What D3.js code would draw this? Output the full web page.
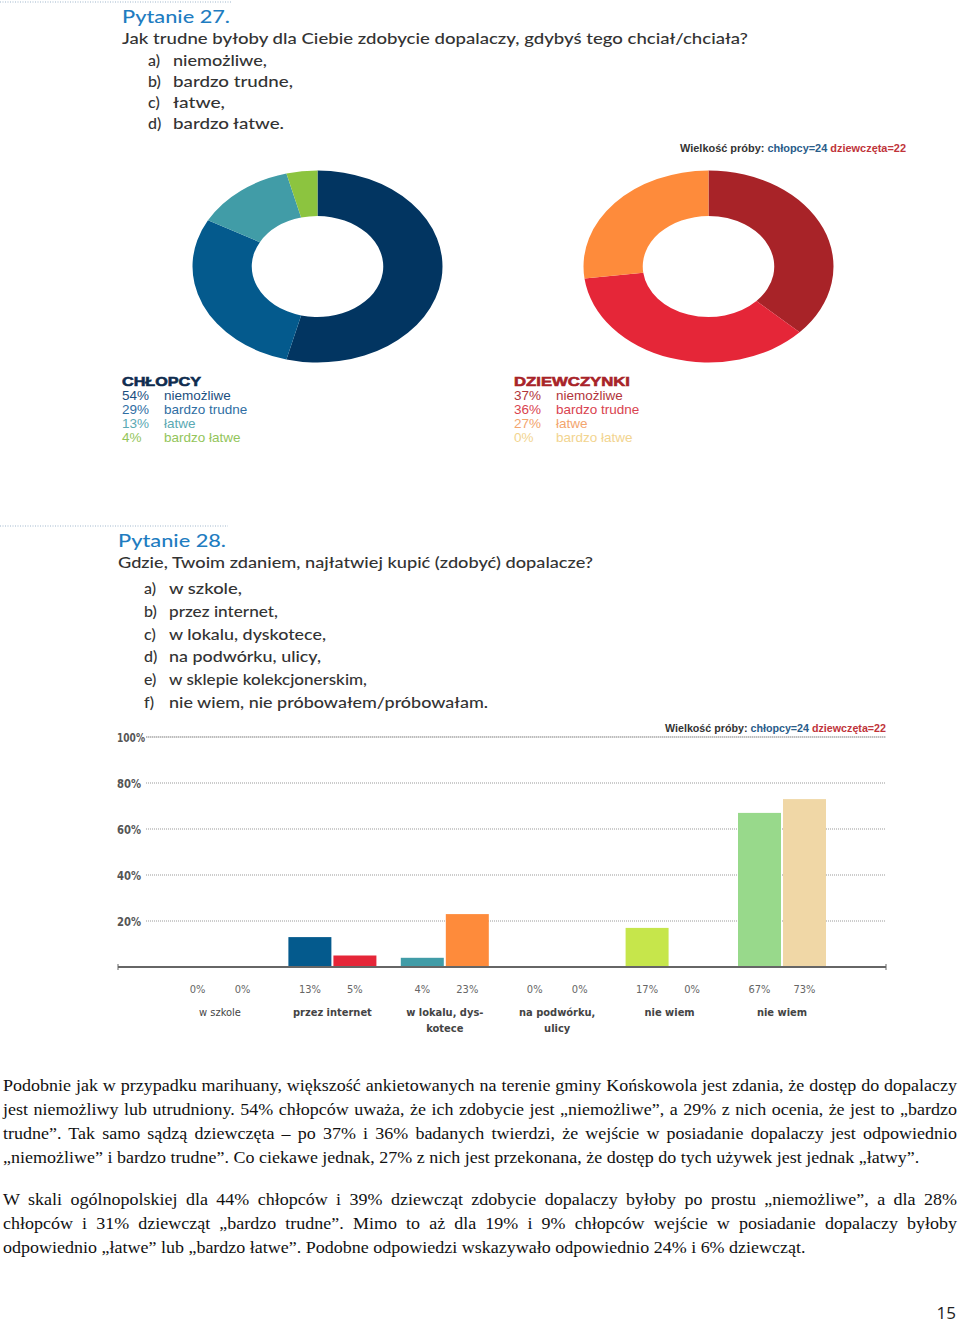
<!DOCTYPE html>
<html><head><meta charset="utf-8">
<script src="https://cdn.jsdelivr.net/npm/d3@7"></script>
<style>body{margin:0;background:#fff}svg{display:block}</style>
</head><body>
<script>
// ---------- DATA ----------
const answers = ["niemożliwe","bardzo trudne","łatwe","bardzo łatwe"];
const boysPct = [54,29,13,4];
const girlsPct = [37,36,27,0];
const q27Items = ["niemożliwe,","bardzo trudne,","łatwe,","bardzo łatwe."];
const q28Items = ["w szkole,","przez internet,","w lokalu, dyskotece,","na podwórku, ulicy,","w sklepie kolekcjonerskim,","nie wiem, nie próbowałem/próbowałam."];
const places = [["w szkole"],["przez internet"],["w lokalu, dys-","kotece"],["na podwórku,","ulicy"],["nie wiem"],["nie wiem"]];
const boysBars = [0,13,4,0,17,67];
const girlsBars = [0,5,23,0,0,73];
const yTicks = [20,40,60,80,100];
const para1 = [
 "Podobnie jak w przypadku marihuany, większość ankietowanych na terenie gminy Końskowola jest zdania, że dostęp do dopalaczy",
 "jest niemożliwy lub utrudniony. 54% chłopców uważa, że ich zdobycie jest „niemożliwe”, a 29% z nich ocenia, że jest to „bardzo",
 "trudne”. Tak samo sądzą dziewczęta – po 37% i 36% badanych twierdzi, że wejście w posiadanie dopalaczy jest odpowiednio",
 "„niemożliwe” i bardzo trudne”. Co ciekawe jednak, 27% z nich jest przekonana, że dostęp do tych używek jest jednak „łatwy”."];
const para2 = [
 "W skali ogólnopolskiej dla 44% chłopców i 39% dziewcząt zdobycie dopalaczy byłoby po prostu „niemożliwe”, a dla 28%",
 "chłopców i 31% dziewcząt „bardzo trudne”. Mimo to aż dla 19% i 9% chłopców wejście w posiadanie dopalaczy byłoby",
 "odpowiednio „łatwe” lub „bardzo łatwe”. Podobne odpowiedzi wskazywało odpowiednio 24% i 6% dziewcząt."];

// ---------- STYLES / LAYOUT ----------
const boysColors = ["#023561","#045a8d","#419ca7","#8cc43f"];
const girlsColors = ["#a82328","#e52638","#fe8b3b","#f5d27e"];
const boysText = ["#1c4f80","#2f6ea3","#5aa9b3","#93c55a"];
const girlsText = ["#b2353b","#d9434f","#f3a56e","#f2d48f"];
const barBoys = ["#023561","#045a8d","#419ca7","#8cc43f","#c6e64b","#98d98b"];
const barGirls = ["#a82328","#e52638","#fe8b3b","#f5d27e","#f5d27e","#f0d7a6"];
const q27Ends = [267,293,225,284];
const q28Ends = [242,278,326,321,367,488];
const headFont = "Lato, 'Open Sans', sans-serif";
const sans = "'Liberation Sans', Arial, sans-serif";
const narrow = "'Liberation Sans Narrow', 'DejaVu Sans Condensed', 'Liberation Sans', sans-serif";

const W = 960, H = 1324;
const svg = d3.select("body").append("svg").attr("width",W).attr("height",H);
svg.append("rect").attr("width",W).attr("height",H).attr("fill","#fff");

function fitText(sel, len){ sel.attr("textLength",len).attr("lengthAdjust","spacingAndGlyphs"); return sel; }

// ---------- Question header helper ----------
function header(y0, x0, title, titleW, question, qW, items, ends, itemStart, step){
  svg.append("line").attr("x1",0).attr("x2",x0+110).attr("y1",y0).attr("y2",y0)
    .attr("stroke","#9fb6cc").attr("stroke-dasharray","1,1.5").attr("stroke-width",1);
  fitText(svg.append("text").attr("x",x0).attr("y",y0+21).attr("font-family",headFont)
    .attr("font-size",18).attr("font-weight",500).attr("fill","#1f7dc1").text(title), titleW);
  fitText(svg.append("text").attr("x",x0).attr("y",y0+42).attr("font-family",headFont)
    .attr("font-size",16).attr("font-weight",500).attr("fill","#333").text(question), qW);
  items.forEach((t,i)=>{
    const y = itemStart + i*step;
    svg.append("text").attr("x",x0+26).attr("y",y).attr("font-family",headFont).attr("font-weight",500)
      .attr("font-size",16).attr("fill","#333").text("abcdef"[i]+")");
    fitText(svg.append("text").attr("x",x0+51).attr("y",y).attr("font-family",headFont).attr("font-weight",500)
      .attr("font-size",16).attr("fill","#333").text(t), ends[i]-(x0+51));
  });
}
header(2,122,"Pytanie 27.",108,"Jak trudne byłoby dla Ciebie zdobycie dopalaczy, gdybyś tego chciał/chciała?",626,
  q27Items,q27Ends,66,21);
header(526,118,"Pytanie 28.",108,"Gdzie, Twoim zdaniem, najłatwiej kupić (zdobyć) dopalacze?",475,
  q28Items,q28Ends,594,22.8);

// ---------- Sample size label ----------
function sample(xr, y, w){
  const t = svg.append("text").attr("x",xr).attr("y",y).attr("text-anchor","end")
    .attr("font-family",sans).attr("font-weight","bold").attr("font-size",10);
  t.append("tspan").attr("fill","#333").text("Wielkość próby: ");
  t.append("tspan").attr("fill","#2a5d8a").text("chłopcy=24 ");
  t.append("tspan").attr("fill","#c0343a").text("dziewczęta=22");
  fitText(t,w);
}
sample(906,152,226);
sample(886,732,221);

// ---------- Donuts ----------
const pie = d3.pie().sort(null).value(d=>d);
const arc = d3.arc().innerRadius(50.5).outerRadius(96);
function donut(cx, cy, vals, colors){
  const g = svg.append("g").attr("transform",`translate(${cx},${cy}) scale(1.302,1)`);
  g.selectAll("path").data(pie(vals)).join("path").attr("d",arc).attr("fill",(d,i)=>colors[i]);
}
donut(317.5,266.5,boysPct,boysColors);
donut(708.5,266.5,girlsPct,girlsColors);

// ---------- Legends ----------
function legend(x, title, titleW, titleColor, vals, colors){
  fitText(svg.append("text").attr("x",x).attr("y",386).attr("font-family",sans).attr("font-weight","900")
    .attr("font-size",13.5).attr("fill",titleColor).attr("stroke",titleColor).attr("stroke-width",0.6).text(title), titleW);
  vals.forEach((v,i)=>{
    const y = 400 + i*14;
    svg.append("text").attr("x",x).attr("y",y).attr("font-family",sans).attr("font-size",13.5)
      .attr("fill",colors[i]).text(v+"%");
    svg.append("text").attr("x",x+42).attr("y",y).attr("font-family",sans).attr("font-size",13.5)
      .attr("fill",colors[i]).text(answers[i]);
  });
}
legend(122,"CHŁOPCY",79,"#0f2c4f",boysPct,boysText);
legend(514,"DZIEWCZYNKI",116,"#a82328",girlsPct,girlsText);

// ---------- Bar chart ----------
const y = d3.scaleLinear().domain([0,100]).range([967,737]);
const x = d3.scaleBand().domain(d3.range(places.length)).range([163.8,838.2]).paddingInner(0.217).paddingOuter(0.1085);
const xs = d3.scaleBand().domain([0,1]).range([0,x.bandwidth()]).paddingInner(0.045);

svg.append("line").attr("x1",146).attr("x2",886).attr("y1",y(100)).attr("y2",y(100))
  .attr("stroke","#e2e2e2").attr("stroke-width",2);
yTicks.forEach(t=>{
  svg.append("line").attr("x1",146).attr("x2",886).attr("y1",y(t)).attr("y2",y(t))
    .attr("stroke","#999").attr("stroke-width",1).attr("stroke-dasharray","1,1");
  fitText(svg.append("text").attr("x",117).attr("y",y(t)+4.5).attr("font-family",narrow).attr("font-weight","bold")
    .attr("font-size",12).attr("fill","#555").text(t+"%"), t===100?28:24);
});

const groups = svg.append("g").selectAll("g").data(places.map((p,i)=>i)).join("g")
  .attr("transform",d=>`translate(${x(d)},0)`);
groups.each(function(i){
  const g = d3.select(this);
  [[boysBars[i],barBoys[i]],[girlsBars[i],barGirls[i]]].forEach(([v,c],k)=>{
    if(v>0) g.append("rect").attr("x",xs(k)).attr("width",xs.bandwidth()).attr("y",y(v))
      .attr("height",y(0)-y(v)).attr("fill",c);
    g.append("text").attr("x",xs(k)+xs.bandwidth()/2).attr("y",993).attr("text-anchor","middle")
      .attr("font-family",narrow).attr("font-size",11).attr("fill","#666").text(v+"%");
  });
  places[i].forEach((line,j)=>{
    g.append("text").attr("x",x.bandwidth()/2).attr("y",1016+j*16).attr("text-anchor","middle")
      .attr("font-family",narrow).attr("font-size",11).attr("fill","#444")
      .attr("font-weight", i===0?"normal":"bold").text(line);
  });
});
// baseline axis
svg.append("line").attr("x1",118).attr("x2",886).attr("y1",y(0)).attr("y2",y(0)).attr("stroke","#666").attr("stroke-width",2);
[118,886].forEach(xx=>svg.append("line").attr("x1",xx).attr("x2",xx).attr("y1",y(0)-3).attr("y2",y(0)+3).attr("stroke","#666").attr("stroke-width",1));

// ---------- Body text ----------
const serif = "'Liberation Serif','Times New Roman',serif";
function paragraph(lines, y0, target){
  const tmp = svg.append("text").attr("font-family",serif).attr("font-size",17).text(lines[lines.length-1]);
  const lastW = tmp.node().getComputedTextLength(); tmp.remove();
  const sx = target/lastW;
  lines.forEach((l,i)=>{
    const g = svg.append("g").attr("transform",`translate(3,${y0+i*24}) scale(${sx},1)`);
    const t = g.append("text").attr("font-family",serif).attr("font-size",17).attr("fill","#111").text(l);
    if(i<lines.length-1){
      const nat = t.node().getComputedTextLength();
      const spaces = (l.match(/ /g)||[]).length;
      t.attr("word-spacing",(954/sx - nat)/spaces);
    }
  });
}
paragraph(para1,1091,917);
paragraph(para2,1205,803);
svg.append("text").attr("x",956).attr("y",1319).attr("text-anchor","end").attr("font-family","'Open Sans',sans-serif")
  .attr("font-size",17).attr("fill","#222").text("15");
</script>
</body></html>
